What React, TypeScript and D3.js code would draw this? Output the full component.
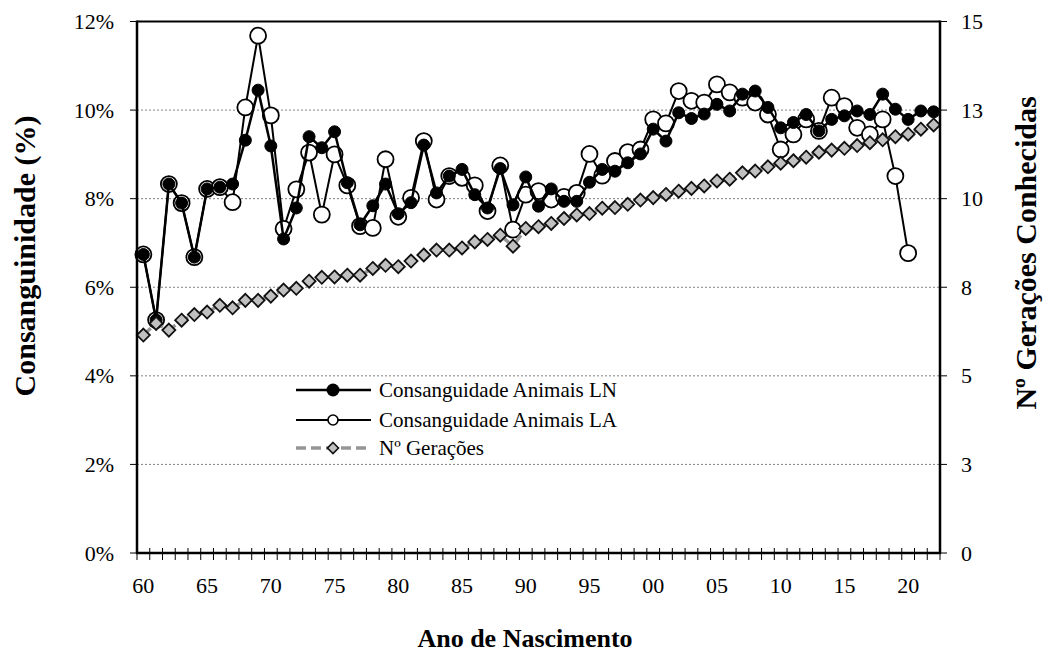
import React from "react";
import * as d3 from "d3";

const years: number[] = d3.range(1960, 2023);
const lnValues: number[] = [
  6.74, 5.26, 8.33, 7.90, 6.68, 8.22, 8.26, 8.33, 9.32, 10.45,
  9.19, 7.09, 7.79, 9.40, 9.15, 9.51, 8.36, 7.41, 7.84, 8.33,
  7.66, 7.91, 9.21, 8.13, 8.51, 8.66, 8.09, 7.79, 8.68, 7.86,
  8.49, 7.83, 8.22, 7.94, 7.94, 8.37, 8.66, 8.62, 8.81, 9.01,
  9.57, 9.30, 9.94, 9.81, 9.91, 10.13, 9.98, 10.36, 10.43, 10.06,
  9.60, 9.72, 9.90, 9.53, 9.79, 9.87, 9.98, 9.90, 10.36, 10.02,
  9.79, 9.98, 9.96,
];
const laValues: (number | null)[] = [
  6.74, 5.26, 8.33, 7.90, 6.68, 8.22, 8.26, 7.92, 10.06, 11.68,
  9.88, 7.32, 8.21, 9.04, 7.64, 9.00, 8.30, 7.38, 7.34, 8.89,
  7.59, 8.02, 9.30, 7.98, 8.51, 8.47, 8.30, 7.72, 8.75, 7.30,
  8.09, 8.17, 7.98, 8.04, 8.13, 9.01, 8.52, 8.85, 9.05, 9.11,
  9.79, 9.70, 10.43, 10.21, 10.17, 10.58, 10.40, 10.28, 10.17, 9.90,
  9.11, 9.45, 9.79, 9.53, 10.28, 10.09, 9.60, 9.45, 9.79, 8.51,
  6.77, null, null,
];
const genValues: number[] = [
  6.15, 6.48, 6.29, 6.57, 6.73, 6.80, 6.99, 6.92, 7.13, 7.13,
  7.25, 7.42, 7.47, 7.67, 7.78, 7.79, 7.84, 7.84, 8.03, 8.12,
  8.08, 8.24, 8.41, 8.55, 8.55, 8.61, 8.78, 8.85, 8.97, 8.66,
  9.16, 9.21, 9.30, 9.44, 9.54, 9.58, 9.73, 9.75, 9.84, 9.96,
  10.03, 10.12, 10.21, 10.29, 10.36, 10.50, 10.55, 10.73, 10.78, 10.90,
  11.00, 11.07, 11.17, 11.31, 11.37, 11.42, 11.50, 11.58, 11.66, 11.75,
  11.82, 11.96, 12.08,
];
const leftTicks: number[] = [0, 2, 4, 6, 8, 10, 12];
const rightTicks: number[] = [0, 2.5, 5, 7.5, 10, 12.5, 15];
const rightTickLabels: string[] = ["0", "3", "5", "8", "10", "13", "15"];
const legendLabels: string[] = [
  "Consanguidade Animais LN",
  "Consanguidade Animais LA",
  "Nº Gerações",
];

const W = 1043;
const H = 668;
const L = 137;
const R = 940;
const T = 21.5;
const B = 553;
const SERIF = "'Liberation Serif', 'Times New Roman', serif";

export default function App() {
  const x = d3.scaleBand<number>().domain(years).range([L, R]).padding(0);
  const cx = (y: number) => (x(y) as number) + x.bandwidth() / 2;
  const yL = d3.scaleLinear().domain([0, 12]).range([B, T]);
  const yR = d3.scaleLinear().domain([0, 15]).range([B, T]);

  const lnPts = years.map((yr, i) => ({ yr, v: lnValues[i] }));
  const laPts = years.map((yr, i) => ({ yr, v: laValues[i] }));
  const genPts = years.map((yr, i) => ({ yr, v: genValues[i] }));

  const lineL = d3
    .line<{ yr: number; v: number | null }>()
    .defined((d) => d.v != null)
    .x((d) => cx(d.yr))
    .y((d) => yL(d.v as number));
  const lineR = d3
    .line<{ yr: number; v: number }>()
    .x((d) => cx(d.yr))
    .y((d) => yR(d.v));

  const diamond = (px: number, py: number, s: number) =>
    `M${px},${py - s}L${px + s},${py}L${px},${py + s}L${px - s},${py}Z`;

  const boundaries = years.map((yr) => x(yr) as number).concat([R]);

  const legY = [390, 420, 448];
  const legX1 = 296;
  const legX2 = 371;
  const legM = 333;

  return (
    <div style={{ position: "absolute", left: 0, top: 0 }}>
      <svg width={W} height={H} style={{ display: "block", background: "#fff" }}>
        <rect x={0} y={0} width={W} height={H} fill="#fff" />
        {leftTicks
          .filter((t) => t > 0 && t < 12)
          .map((t) => (
            <line
              key={"g" + t}
              x1={L}
              x2={R}
              y1={yL(t)}
              y2={yL(t)}
              stroke="#808080"
              strokeWidth={1}
              strokeDasharray="2,2"
            />
          ))}
        <line x1={L} x2={R} y1={T} y2={T} stroke="#000" strokeWidth={2} />

        <path d={lineL(laPts) || ""} fill="none" stroke="#000" strokeWidth={2} />
        {laPts
          .filter((d) => d.v != null)
          .map((d) => (
            <circle
              key={"la" + d.yr}
              cx={cx(d.yr)}
              cy={yL(d.v as number)}
              r={8}
              fill="#fff"
              stroke="#000"
              strokeWidth={1.8}
            />
          ))}
        <path d={lineL(lnPts) || ""} fill="none" stroke="#000" strokeWidth={2.5} />
        {lnPts.map((d) => (
          <circle
            key={"ln" + d.yr}
            cx={cx(d.yr)}
            cy={yL(d.v)}
            r={6}
            fill="#000"
            stroke="#000"
            strokeWidth={1}
          />
        ))}
        <path
          d={lineR(genPts) || ""}
          fill="none"
          stroke="#969696"
          strokeWidth={3.5}
          strokeDasharray="10,5"
        />
        {genPts.map((d) => (
          <path
            key={"gen" + d.yr}
            d={diamond(cx(d.yr), yR(d.v), 6.5)}
            fill="#c0c0c0"
            stroke="#111"
            strokeWidth={1.8}
          />
        ))}

        <line x1={L} x2={L} y1={T - 1} y2={B + 1} stroke="#000" strokeWidth={2.5} />
        <line x1={R} x2={R} y1={T - 1} y2={B + 1} stroke="#000" strokeWidth={2.5} />
        <line x1={L - 1} x2={R + 1} y1={B} y2={B} stroke="#000" strokeWidth={2.5} />
        {leftTicks.map((t) => (
          <g key={"lt" + t}>
            <line x1={L - 7} x2={L} y1={yL(t)} y2={yL(t)} stroke="#000" strokeWidth={1} />
            <text
              x={114}
              y={yL(t)}
              textAnchor="end"
              dominantBaseline="central"
              fontFamily={SERIF}
              fontSize={22}
              fill="#000"
            >
              {t + "%"}
            </text>
          </g>
        ))}
        {rightTicks.map((t, i) => (
          <g key={"rt" + t}>
            <line x1={R} x2={R + 7} y1={yR(t)} y2={yR(t)} stroke="#000" strokeWidth={1} />
            <text
              x={961}
              y={yR(t)}
              textAnchor="start"
              dominantBaseline="central"
              fontFamily={SERIF}
              fontSize={22}
              fill="#000"
            >
              {rightTickLabels[i]}
            </text>
          </g>
        ))}
        {boundaries.map((bx, i) => (
          <line key={"xt" + i} x1={bx} x2={bx} y1={B - 5} y2={B + 7} stroke="#000" strokeWidth={1} />
        ))}
        {years
          .filter((yr) => yr % 5 === 0)
          .map((yr) => (
            <text
              key={"xl" + yr}
              x={cx(yr)}
              y={593}
              textAnchor="middle"
              fontFamily={SERIF}
              fontSize={22}
              fill="#000"
            >
              {String(yr).slice(2)}
            </text>
          ))}

        <text
          transform={`translate(35,256) rotate(-90)`}
          textAnchor="middle"
          fontFamily={SERIF}
          fontWeight="bold"
          fontSize={30}
          fill="#000"
        >
          Consanguinidade (%)
        </text>
        <text
          transform={`translate(1036,253) rotate(-90)`}
          textAnchor="middle"
          fontFamily={SERIF}
          fontWeight="bold"
          fontSize={30}
          fill="#000"
        >
          Nº Gerações Conhecidas
        </text>
        <text
          x={525}
          y={647}
          textAnchor="middle"
          fontFamily={SERIF}
          fontWeight="bold"
          fontSize={26}
          fill="#000"
        >
          Ano de Nascimento
        </text>

        <g>
          <line x1={legX1} x2={legX2} y1={legY[0]} y2={legY[0]} stroke="#000" strokeWidth={2.5} />
          <circle cx={legM} cy={legY[0]} r={6.5} fill="#000" />
          <line x1={legX1} x2={legX2} y1={legY[1]} y2={legY[1]} stroke="#000" strokeWidth={2} />
          <circle cx={legM} cy={legY[1]} r={5} fill="#fff" stroke="#000" strokeWidth={1.6} />
          <line
            x1={legX1}
            x2={legX2}
            y1={legY[2]}
            y2={legY[2]}
            stroke="#969696"
            strokeWidth={3.5}
            strokeDasharray="10,5"
          />
          <path d={diamond(legM, legY[2], 5.5)} fill="#c0c0c0" stroke="#111" strokeWidth={1.6} />
          {legendLabels.map((lab, i) => (
            <text
              key={"leg" + i}
              x={379}
              y={legY[i]}
              dominantBaseline="central"
              fontFamily={SERIF}
              fontSize={21}
              fill="#000"
            >
              {lab}
            </text>
          ))}
        </g>
      </svg>
    </div>
  );
}
